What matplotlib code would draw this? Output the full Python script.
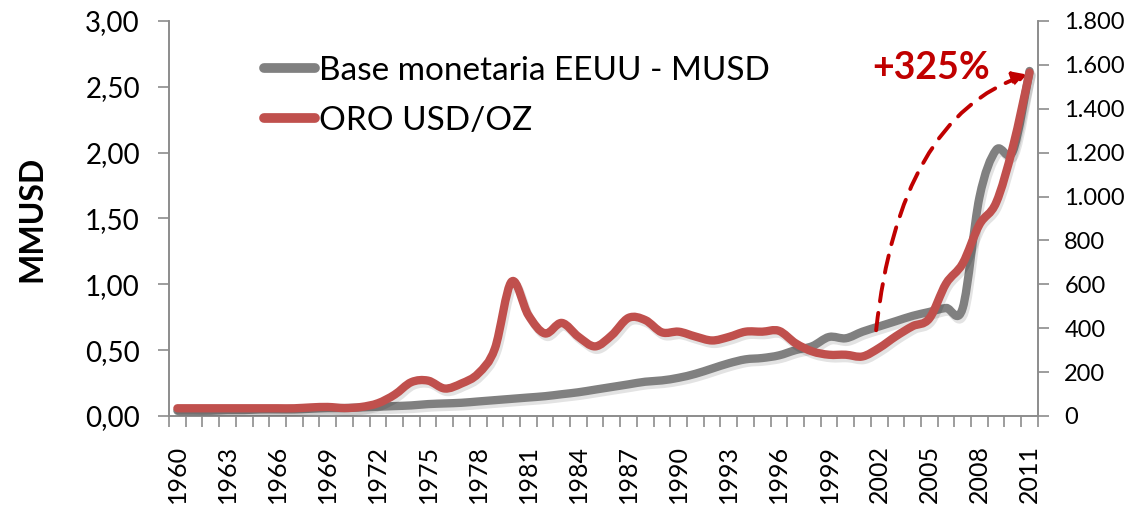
import matplotlib
matplotlib.use("Agg")
import matplotlib.pyplot as plt
import matplotlib.patheffects as pe
from matplotlib.path import Path
from matplotlib.patches import PathPatch, FancyArrowPatch
from matplotlib.lines import Line2D
from matplotlib.ticker import FuncFormatter, MultipleLocator

plt.rcParams['font.family'] = ['Lato', 'DejaVu Sans']

# datos
years = list(range(1960, 2012))
base_musd = [0.04, 0.04, 0.04, 0.045, 0.045, 0.05, 0.05, 0.05, 0.055, 0.06,
             0.06, 0.065, 0.07, 0.075, 0.08, 0.09, 0.095, 0.10, 0.11, 0.12,
             0.13, 0.14, 0.15, 0.165, 0.18, 0.20, 0.22, 0.24, 0.26, 0.27,
             0.29, 0.32, 0.36, 0.40, 0.43, 0.44, 0.46, 0.50, 0.53, 0.60,
             0.59, 0.64, 0.68, 0.72, 0.76, 0.79, 0.82, 0.82, 1.66, 2.02,
             2.01, 2.62]
oro_usd = [35, 35, 35, 35, 35, 35, 35, 35, 39, 41,
           36, 41, 58, 97, 154, 161, 125, 148, 193, 307,
           612, 460, 376, 424, 361, 317, 368, 447, 437, 381,
           384, 362, 344, 360, 384, 384, 388, 331, 294, 279,
           279, 271, 310, 363, 409, 444, 603, 695, 872, 972,
           1225, 1565]
label_base = 'Base monetaria EEUU - MUSD'
label_oro = 'ORO USD/OZ'

GRIS = '#808080'
ROJO = '#C0504D'
ROJO_OSC = '#C00000'
EJE = '#8C8C8C'


def smooth_path(xs, ys):
    """curva suavizada tipo Excel (Catmull-Rom -> Bezier)"""
    pts = list(zip(xs, ys))
    verts = [pts[0]]
    codes = [Path.MOVETO]
    n = len(pts)
    for i in range(n - 1):
        p0 = pts[i - 1] if i > 0 else pts[i]
        p1 = pts[i]
        p2 = pts[i + 1]
        p3 = pts[i + 2] if i + 2 < n else pts[i + 1]
        c1 = (p1[0] + (p2[0] - p0[0]) / 6, p1[1] + (p2[1] - p0[1]) / 6)
        c2 = (p2[0] - (p3[0] - p1[0]) / 6, p2[1] - (p3[1] - p1[1]) / 6)
        verts += [c1, c2, p2]
        codes += [Path.CURVE4] * 3
    return Path(verts, codes)


fig = plt.figure(figsize=(11.24, 5.11), dpi=100)
ax1 = fig.add_axes([0.1504, 0.186, 0.773, 0.773])
ax2 = ax1.twinx()

xpos = list(range(len(years)))
shadow = [pe.SimpleLineShadow(offset=(1.5, -2.5), shadow_color='black', alpha=0.11), pe.Normal()]

p_base = PathPatch(smooth_path(xpos, base_musd), fill=False, edgecolor=GRIS,
                   linewidth=6, capstyle='round', joinstyle='round', zorder=3)
p_base.set_path_effects(shadow)
ax1.add_patch(p_base)

p_oro = PathPatch(smooth_path(xpos, oro_usd), fill=False, edgecolor=ROJO,
                  linewidth=6, capstyle='round', joinstyle='round', zorder=4)
p_oro.set_path_effects(shadow)
ax2.add_patch(p_oro)

ax1.set_xlim(-0.5, len(years) - 0.5)
ax1.set_ylim(0, 3)
ax2.set_ylim(0, 1800)

ax1.yaxis.set_major_locator(MultipleLocator(0.5))
ax1.yaxis.set_major_formatter(FuncFormatter(lambda v, p: f'{v:.2f}'.replace('.', ',')))
ax2.yaxis.set_major_locator(MultipleLocator(200))
ax2.yaxis.set_major_formatter(FuncFormatter(lambda v, p: f'{int(v):,}'.replace(',', '.')))

ax1.set_xticks(xpos[::3])
ax1.set_xticklabels([str(y) for y in years[::3]], rotation=90, fontsize=18)
ax1.set_xticks([x - 0.5 for x in range(len(years) + 1)], minor=True)
ax1.tick_params(axis='x', which='major', length=0, pad=21)
ax1.tick_params(axis='x', which='minor', length=8, width=1.2, color=EJE, direction='out')
ax1.tick_params(axis='y', labelsize=20, length=8, width=1.2, color=EJE, pad=13)
ax2.tick_params(axis='y', labelsize=17, length=8, width=1.2, color=EJE, pad=11)

for ax in (ax1, ax2):
    ax.spines['top'].set_visible(False)
    for s in ('left', 'right', 'bottom'):
        ax.spines[s].set_color(EJE)
        ax.spines[s].set_linewidth(1.2)

ax1.set_ylabel('MMUSD', fontsize=23, fontweight='bold', labelpad=28)

# flecha +325%
arr = FancyArrowPatch((41.8, 0.63), (51.0, 2.6), transform=ax1.transData,
                      connectionstyle='angle3,angleA=84,angleB=18',
                      arrowstyle='-|>,head_length=8,head_width=4.5',
                      color=ROJO_OSC, linewidth=2.8, linestyle=(0, (4.5, 3)),
                      zorder=6)
ax1.add_patch(arr)
ax1.text(45.1, 2.64, '+325%', color=ROJO_OSC, fontsize=27, fontweight='bold',
         ha='center', va='center', zorder=7)

handles = [Line2D([], [], color=GRIS, linewidth=7, solid_capstyle='round'),
           Line2D([], [], color=ROJO, linewidth=7, solid_capstyle='round')]
leg = ax1.legend(handles, [label_base, label_oro], loc='upper left',
                 bbox_to_anchor=(0.082, 0.97), frameon=False, fontsize=24,
                 handlelength=1.55, handletextpad=0.12, labelspacing=0.6,
                 borderpad=0.2)

fig.savefig('out.png', dpi=100)
